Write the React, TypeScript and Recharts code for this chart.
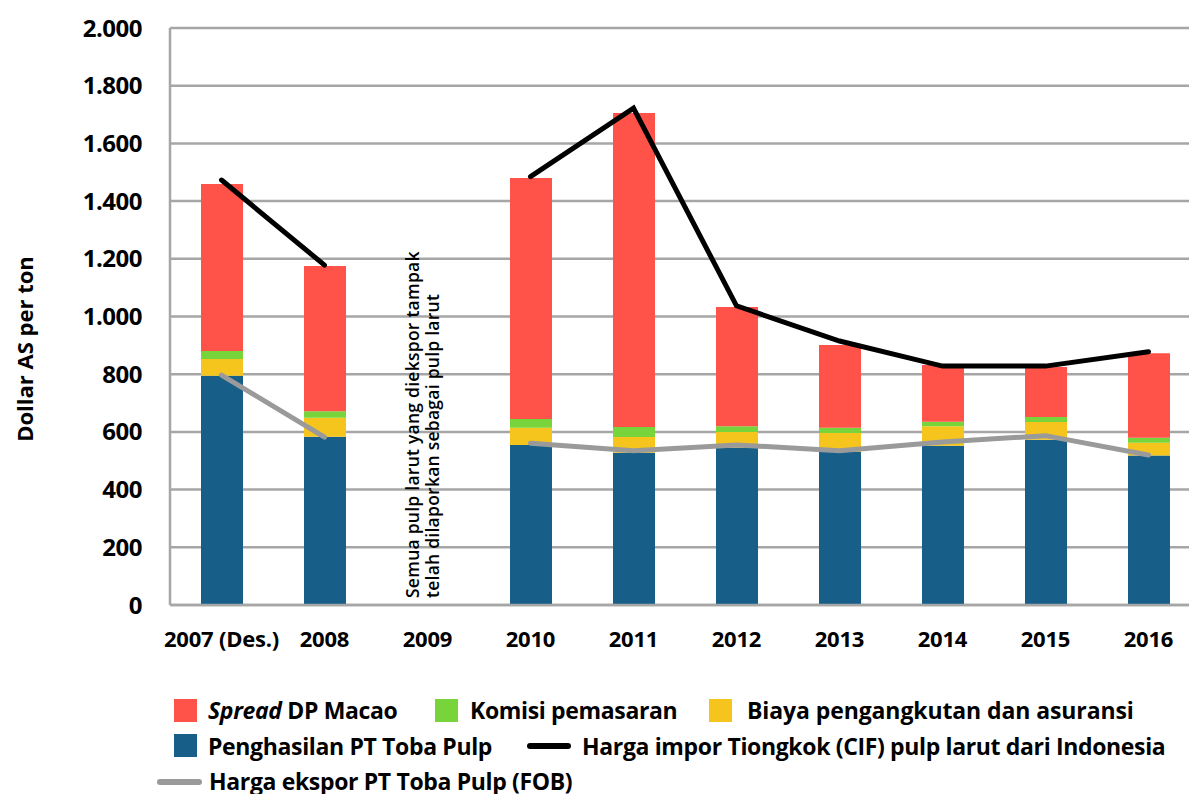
import React from 'react';
import { ComposedChart, Bar, Line, XAxis, YAxis, CartesianGrid, ReferenceLine } from 'recharts';

const categories = ['2007 (Des.)', '2008', '2009', '2010', '2011', '2012', '2013', '2014', '2015', '2016'];
const penghasilan = [795, 583, null, 555, 528, 545, 530, 552, 573, 518];
const biaya = [58, 66, null, 59, 54, 55, 66, 68, 61, 44];
const komisi = [27, 23, null, 31, 35, 20, 18, 15, 18, 18];
const spread = [579, 503, null, 835, 1088, 413, 287, 197, 173, 293];
const hargaImpor = [1473, 1178, null, 1485, 1722, 1037, 915, 828, 828, 878];
const hargaEkspor = [797, 582, null, 561, 535, 555, 535, 565, 587, 520];
const yTicks = [0, 200, 400, 600, 800, 1000, 1200, 1400, 1600, 1800, 2000];
const annotationLines = ['Semua pulp larut yang diekspor tampak', 'telah dilaporkan sebagai pulp larut'];

const COLORS = {
  red: '#FF5249',
  green: '#77D43B',
  yellow: '#F5C51D',
  blue: '#175F88',
  black: '#000000',
  gray: '#9A9A9A',
  grid: '#A6A6A6',
};

const data = categories.map((c, i) => ({
  cat: c,
  penghasilan: penghasilan[i],
  biaya: biaya[i],
  komisi: komisi[i],
  spread: spread[i],
  hargaImpor: hargaImpor[i],
  hargaEkspor: hargaEkspor[i],
}));

const FONT = "'Open Sans', 'DejaVu Sans', sans-serif";

const fmt = (v: number) =>
  v >= 1000 ? `${Math.floor(v / 1000)}.${String(v % 1000).padStart(3, '0')}` : String(v);

const AnnotationLabel = (props: any) => {
  const { viewBox } = props;
  const cx = viewBox.x;
  const bottom = viewBox.y + viewBox.height - 7;
  const x1 = cx - 9;
  const x2 = cx + 11;
  return (
    <g>
      {annotationLines.map((t, i) => {
        const x = i === 0 ? x1 : x2;
        return (
          <text
            key={i}
            x={x}
            y={bottom}
            transform={`rotate(-90, ${x}, ${bottom})`}
            fontFamily={FONT}
            fontSize={17.5}
            fontWeight={600}
            letterSpacing={0.25}
            fill="#000"
            textAnchor="start"
          >
            {t}
          </text>
        );
      })}
    </g>
  );
};

const YLabel = (props: any) => {
  const { viewBox } = props;
  const x = viewBox.x + 33;
  const y = 349;
  return (
    <text
      x={x}
      y={y}
      transform={`rotate(-90, ${x}, ${y})`}
      textAnchor="middle"
      fontFamily={FONT}
      fontSize={22}
      fontWeight={700}
      fill="#000"
    >
      Dollar AS per ton
    </text>
  );
};

const legendText: React.CSSProperties = {
  position: 'absolute',
  fontFamily: FONT,
  fontWeight: 700,
  fontSize: 23,
  letterSpacing: -0.35,
  color: '#000',
  whiteSpace: 'nowrap',
  lineHeight: '30px',
};

const Square = ({ left, top, color }: { left: number; top: number; color: string }) => (
  <div style={{ position: 'absolute', left, top, width: 23, height: 23, background: color }} />
);
const LineKey = ({ left, top, width, color }: { left: number; top: number; width: number; color: string }) => (
  <div style={{ position: 'absolute', left, top, width, height: 6, borderRadius: 3, background: color }} />
);

export default function App() {
  return (
    <div style={{ position: 'absolute', left: 0, top: 0, width: 1189, height: 794, overflow: 'hidden', background: '#fff' }}>
      <ComposedChart
        width={1215}
        height={794}
        data={data}
        margin={{ top: 28, right: 15, left: 0, bottom: 129 }}
        barSize={42}
      >
        <CartesianGrid vertical={false} stroke={COLORS.grid} strokeWidth={2.5} />
        <XAxis
          dataKey="cat"
          height={60}
          axisLine={{ stroke: COLORS.grid, strokeWidth: 2.5 }}
          tickLine={false}
          tickSize={0}
          tickMargin={26}
          interval={0}
          tick={{ fontFamily: FONT, fontSize: 22, fontWeight: 700, fill: '#000', letterSpacing: -0.2 }}
        />
        <YAxis
          width={170}
          domain={[0, 2000]}
          ticks={yTicks}
          tickFormatter={fmt}
          axisLine={{ stroke: COLORS.grid, strokeWidth: 2.5 }}
          tickLine={false}
          tickSize={0}
          tickMargin={28}
          tick={{ fontFamily: FONT, fontSize: 24, fontWeight: 700, fill: '#000', letterSpacing: -0.5 }}
          label={<YLabel />}
        />
        <Bar dataKey="penghasilan" stackId="a" fill={COLORS.blue} isAnimationActive={false} />
        <Bar dataKey="biaya" stackId="a" fill={COLORS.yellow} isAnimationActive={false} />
        <Bar dataKey="komisi" stackId="a" fill={COLORS.green} isAnimationActive={false} />
        <Bar dataKey="spread" stackId="a" fill={COLORS.red} isAnimationActive={false} />
        <Line
          dataKey="hargaImpor"
          stroke={COLORS.black}
          strokeWidth={5}
          dot={false}
          activeDot={false}
          connectNulls={false}
          strokeLinecap="round"
          isAnimationActive={false}
        />
        <Line
          dataKey="hargaEkspor"
          stroke={COLORS.gray}
          strokeWidth={5}
          dot={false}
          activeDot={false}
          connectNulls={false}
          strokeLinecap="round"
          isAnimationActive={false}
        />
        <ReferenceLine x="2009" stroke="none" label={<AnnotationLabel />} />
      </ComposedChart>

      <Square left={174} top={699} color={COLORS.red} />
      <div style={{ ...legendText, left: 208, top: 695 }}>
        <span style={{ fontStyle: 'italic' }}>Spread</span> DP Macao
      </div>
      <Square left={435} top={699} color={COLORS.green} />
      <div style={{ ...legendText, left: 470, top: 695 }}>Komisi pemasaran</div>
      <Square left={709} top={699} color={COLORS.yellow} />
      <div style={{ ...legendText, left: 747, top: 695, letterSpacing: -0.1 }}>Biaya pengangkutan dan asuransi</div>

      <Square left={174} top={734} color={COLORS.blue} />
      <div style={{ ...legendText, left: 208, top: 731 }}>Penghasilan PT Toba Pulp</div>
      <LineKey left={527} top={743} width={44} color={COLORS.black} />
      <div style={{ ...legendText, left: 582, top: 731 }}>Harga impor Tiongkok (CIF) pulp larut dari Indonesia</div>

      <LineKey left={157} top={779} width={45} color={COLORS.gray} />
      <div style={{ ...legendText, left: 209, top: 766 }}>Harga ekspor PT Toba Pulp (FOB)</div>
    </div>
  );
}
